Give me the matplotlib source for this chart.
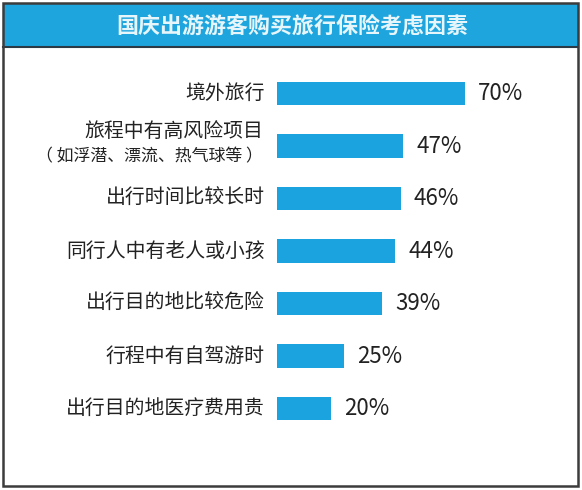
import matplotlib
matplotlib.use("Agg")
import matplotlib.pyplot as plt
from matplotlib.patches import Rectangle

plt.rcParams['font.family'] = ['Noto Sans CJK SC', 'DejaVu Sans']

title = "国庆出游游客购买旅行保险考虑因素"
categories = ["境外旅行", "旅程中有高风险项目", "出行时间比较长时", "同行人中有老人或小孩",
              "出行目的地比较危险", "行程中有自驾游时", "出行目的地医疗费用贵"]
notes = ["", "（ 如浮潜、漂流、热气球等 ）", "", "", "", "", ""]
values = [70, 47, 46, 44, 39, 25, 20]

W, H = 582, 490
fig = plt.figure(figsize=(W / 100, H / 100), dpi=100)
fig.patch.set_facecolor('white')

# frame and title bar
fig.patches.append(Rectangle((3 / W, 1 - 47 / H), 575 / W, 44 / H, transform=fig.transFigure,
                             facecolor='#1FA5DE', edgecolor='none', zorder=0))
fig.add_artist(plt.Line2D([3 / W, 578 / W], [1 - 47.5 / H, 1 - 47.5 / H], transform=fig.transFigure,
                          color='#2b3a44', lw=1.5))
fig.patches.append(Rectangle((3 / W, 1 - 486 / H), 575 / W, 483 / H, transform=fig.transFigure,
                             facecolor='none', edgecolor='#3c3c3c', lw=1.8, zorder=5))
fig.text(292 / W, 1 - 26 / H, title, ha='center', va='center', fontsize=15.8,
         fontweight='bold', color='#E6F6FB')

top, bottom = 67.25, 434.75
ax = fig.add_axes([277 / W, 1 - bottom / H, 269 / W, (bottom - top) / H])
ax.set_xlim(0, 100)
ax.set_ylim(len(values) - 0.5, -0.5)
ax.axis('off')

ypos = list(range(len(values)))
ax.barh(ypos, values, height=0.44, color='#1AA3DF', edgecolor='none')

for i, (cat, note, v) in enumerate(zip(categories, notes, values)):
    ax.annotate(f"{v}%", xy=(v, i), xytext=(13, 0), textcoords='offset pixels',
                ha='left', va='center', fontsize=16, color='#222222')
    if note:
        ax.annotate(cat, xy=(0, i), xytext=(-14, 15), textcoords='offset pixels',
                    ha='right', va='center', fontsize=14.3, color='#222222')
        ax.annotate(note, xy=(0, i), xytext=(-14, -10), textcoords='offset pixels',
                    ha='right', va='center', fontsize=12.2, color='#222222')
    else:
        ax.annotate(cat, xy=(0, i), xytext=(-12, 0), textcoords='offset pixels',
                    ha='right', va='center', fontsize=14.3, color='#222222')

fig.savefig("out.png", dpi=100)
